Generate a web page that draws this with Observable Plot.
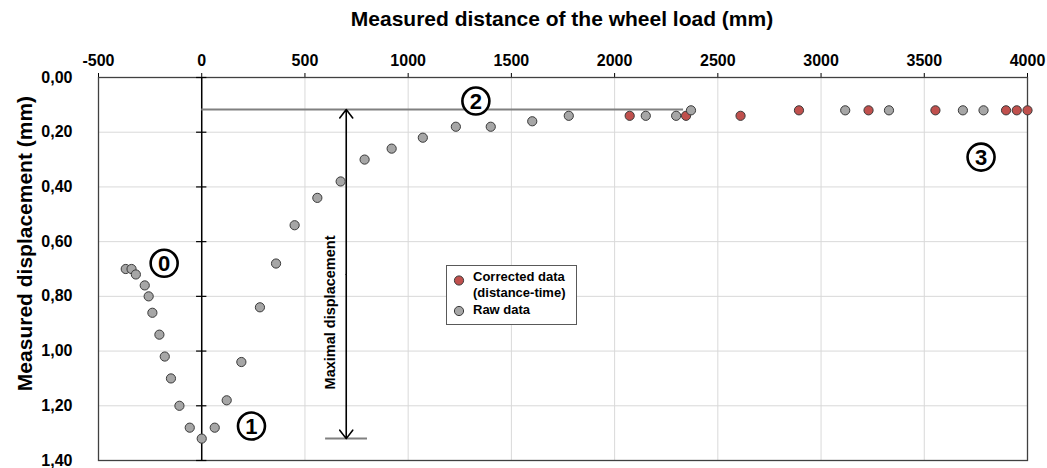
<!DOCTYPE html>
<html>
<head>
<meta charset="utf-8">
<script src="https://cdn.jsdelivr.net/npm/d3@7"></script>
<script src="https://cdn.jsdelivr.net/npm/@observablehq/plot@0.6"></script>
<style>
  body { margin: 0; background: #fff; }
  #wrap { position: relative; width: 1047px; height: 468px; font-family: "Liberation Sans", Arial, sans-serif; color: #000; }
  #wrap svg.chart { position: absolute; left: 0; top: 0; }
  .title { position: absolute; left: 262px; top: 8px; width: 600px; text-align: center; font-size: 21px; line-height: 21px; font-weight: bold; white-space: nowrap; }
  .ylabel { position: absolute; left: -175.6px; top: 233px; width: 400px; height: 21px; text-align: center; font-size: 21px; line-height: 21px; font-weight: bold; white-space: nowrap; transform: rotate(-90deg); transform-origin: 50% 50%; }
  .legend { position: absolute; left: 446px; top: 265px; }
</style>
</head>
<body>
<div id="wrap"></div>
<script>
// ---- data ----
const rawX = [-368, -340, -319, -276, -257, -239, -205, -179, -149, -108, -58, 0, 63, 121, 192, 282, 360, 450, 560, 673, 789, 920, 1071, 1231, 1400, 1601, 1778, 2151, 2298, 2370, 3117, 3329, 3687, 3787];
const rawY = [0.70, 0.70, 0.72, 0.76, 0.80, 0.86, 0.94, 1.02, 1.10, 1.20, 1.28, 1.32, 1.28, 1.18, 1.04, 0.84, 0.68, 0.54, 0.44, 0.38, 0.30, 0.26, 0.22, 0.18, 0.18, 0.16, 0.14, 0.14, 0.14, 0.12, 0.12, 0.12, 0.12, 0.12];
const corrX = [2073, 2346, 2610, 2893, 3230, 3554, 3896, 3948, 4000];
const corrY = [0.14, 0.14, 0.14, 0.12, 0.12, 0.12, 0.12, 0.12, 0.12];

const xTicks = [-500, 0, 500, 1000, 1500, 2000, 2500, 3000, 3500, 4000];
const yTicks = [0, 0.2, 0.4, 0.6, 0.8, 1.0, 1.2, 1.4];

const titleText = "Measured distance of the wheel load (mm)";
const yLabelText = "Measured displacement (mm)";
const legendLabels = ["Corrected data", "(distance-time)", "Raw data"];
const colors = { corrected: "#c0504d", raw: "#a6a6a6" };

// annotation values
const plateauLevel = 0.117;
const plateauEnd = 2334;
const peakLevel = 1.32;
const arrowX = 700;
const peakLineX = [600, 803];
const annoText = "Maximal displacement";
const annoPos = { x: 621, y: 0.859 };
const phaseLabels = ["0", "1", "2", "3"];
const phaseX = [-182, 241, 1328, 3775];
const phaseY = [0.679, 1.274, 0.086, 0.291];

// ---- tables ----
const raw = rawX.map((x, i) => ({ x, y: rawY[i] }));
const corrected = corrX.map((x, i) => ({ x, y: corrY[i] }));
const phases = phaseLabels.map((t, i) => ({ t, x: phaseX[i], y: phaseY[i] }));
const arrows = [
  { x1: arrowX, y1: 0.72, x2: arrowX, y2: plateauLevel },
  { x1: arrowX, y1: 0.72, x2: arrowX, y2: peakLevel }
];

const chart = Plot.plot({
  width: 1047,
  height: 468,
  marginTop: 77,
  marginBottom: 8,
  marginLeft: 98,
  marginRight: 20,
  style: { fontFamily: "Liberation Sans, Arial, sans-serif", fontSize: "16px", fontWeight: "bold", color: "#000", background: "transparent", overflow: "visible" },
  x: { domain: [-500, 4000], ticks: xTicks, tickFormat: d => String(d), axis: "top", label: null, tickSize: 5, tickPadding: 7 },
  y: { domain: [0, 1.4], reverse: true, ticks: yTicks, tickFormat: d => d.toFixed(2).replace(".", ","), label: null, tickSize: 0, tickPadding: 26 },
  marks: [
    Plot.ruleX(xTicks, { stroke: "#d9d9d9", strokeWidth: 1 }),
    Plot.ruleY(yTicks, { stroke: "#d9d9d9", strokeWidth: 1 }),
    Plot.frame({ stroke: "#404040", strokeWidth: 1.3 }),
    Plot.ruleX([0], { stroke: "#000", strokeWidth: 1.5 }),
    Plot.ruleY(yTicks, { x1: () => -25, x2: () => 25, stroke: "#000", strokeWidth: 1.2 }),
    Plot.ruleY([plateauLevel], { x1: () => 0, x2: () => plateauEnd, stroke: "#808080", strokeWidth: 2 }),
    Plot.ruleY([peakLevel], { x1: () => peakLineX[0], x2: () => peakLineX[1], stroke: "#808080", strokeWidth: 2 }),
    Plot.arrow(arrows, { x1: "x1", y1: "y1", x2: "x2", y2: "y2", stroke: "#000", strokeWidth: 1.6, headAngle: 75, headLength: 10 }),
    Plot.text([annoText], { x: () => annoPos.x, y: () => annoPos.y, text: d => d, rotate: -90, fontSize: 14.5, fontWeight: "bold", fill: "#000" }),
    Plot.dot(corrected, { x: "x", y: "y", r: 4.6, fill: colors.corrected, stroke: "#3a3a3a", strokeWidth: 1 }),
    Plot.dot(raw, { x: "x", y: "y", r: 4.6, fill: colors.raw, stroke: "#3a3a3a", strokeWidth: 1 }),
    Plot.dot(phases, { x: "x", y: "y", r: 13.5, fill: "#fff", stroke: "#000", strokeWidth: 2.6 }),
    Plot.text(phases, { x: "x", y: "y", text: "t", fontSize: 22, fontWeight: "bold", fill: "#000", dy: 1 })
  ]
});
chart.classList.add("chart");

const wrap = document.getElementById("wrap");
wrap.appendChild(chart);

const title = document.createElement("div");
title.className = "title";
title.textContent = titleText;
wrap.appendChild(title);

const ylab = document.createElement("div");
ylab.className = "ylabel";
ylab.textContent = yLabelText;
wrap.appendChild(ylab);

// legend (box with swatches)
const ns = "http://www.w3.org/2000/svg";
const leg = document.createElementNS(ns, "svg");
leg.setAttribute("class", "legend");
leg.setAttribute("width", 132);
leg.setAttribute("height", 61);
leg.innerHTML = `
  <rect x="0.5" y="0.5" width="130" height="59" fill="#fff" stroke="#595959" stroke-width="1"/>
  <circle cx="13" cy="15.5" r="4.6" fill="${colors.corrected}" stroke="#3a3a3a" stroke-width="1"/>
  <circle cx="13" cy="46" r="4.6" fill="${colors.raw}" stroke="#3a3a3a" stroke-width="1"/>
  <g font-family="Liberation Sans, Arial, sans-serif" font-size="13" font-weight="bold" fill="#000">
    <text x="27" y="15.5">${legendLabels[0]}</text>
    <text x="27" y="31.5">${legendLabels[1]}</text>
    <text x="27" y="49">${legendLabels[2]}</text>
  </g>`;
wrap.appendChild(leg);
</script>
</body>
</html>
